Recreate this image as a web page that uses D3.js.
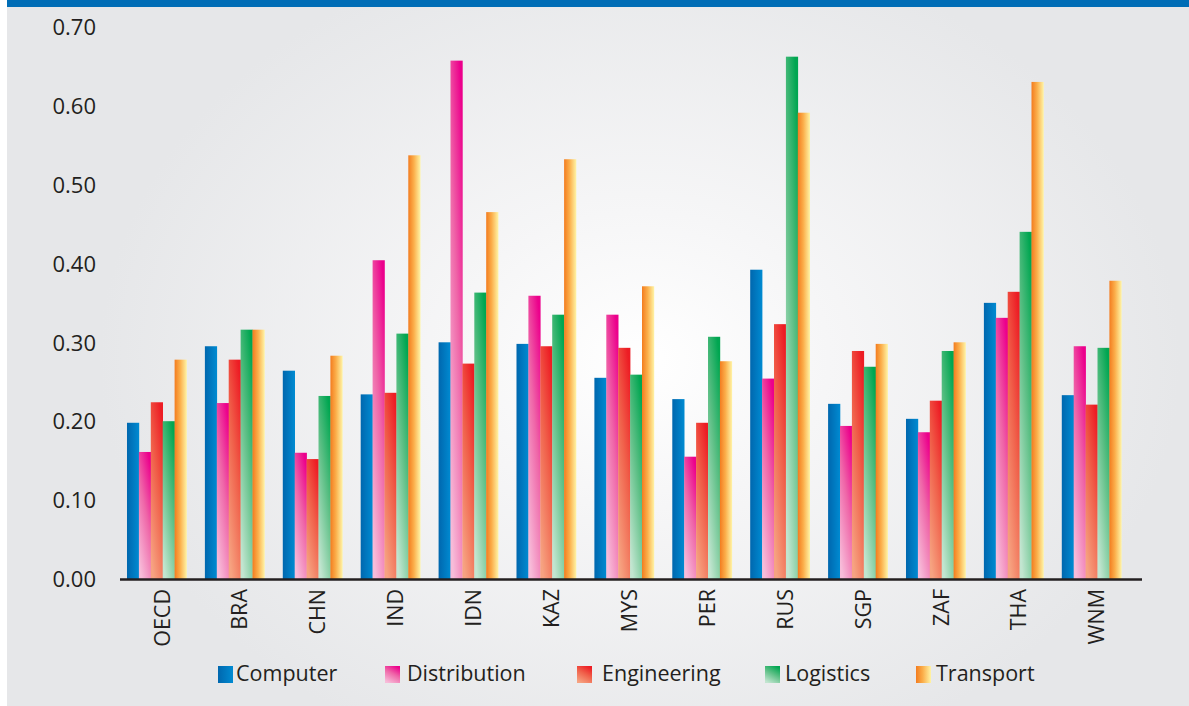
<!DOCTYPE html>
<html>
<head>
<meta charset="utf-8">
<script src="https://cdn.jsdelivr.net/npm/d3@7"></script>
<style>
  html, body { margin: 0; padding: 0; background: #ffffff; }
  svg { display: block; }
  text { font-family: "Open Sans", "Noto Sans", sans-serif; fill: #231f20; }
</style>
</head>
<body>
<svg id="chart" width="1189" height="706"></svg>
<script>
// Sector scores by economy
const categories = ["OECD", "BRA", "CHN", "IND", "IDN", "KAZ", "MYS", "PER", "RUS", "SGP", "ZAF", "THA", "WNM"];
const seriesNames = ["Computer", "Distribution", "Engineering", "Logistics", "Transport"];

const computer     = [0.198, 0.295, 0.264, 0.234, 0.300, 0.298, 0.255, 0.228, 0.392, 0.222, 0.203, 0.350, 0.233];
const distribution = [0.161, 0.223, 0.160, 0.404, 0.657, 0.359, 0.335, 0.155, 0.254, 0.194, 0.186, 0.331, 0.295];
const engineering  = [0.224, 0.278, 0.152, 0.236, 0.273, 0.295, 0.293, 0.198, 0.323, 0.289, 0.226, 0.364, 0.221];
const logistics    = [0.200, 0.316, 0.232, 0.311, 0.363, 0.335, 0.259, 0.307, 0.662, 0.269, 0.289, 0.440, 0.293];
const transport    = [0.278, 0.316, 0.283, 0.537, 0.465, 0.532, 0.371, 0.276, 0.591, 0.298, 0.300, 0.630, 0.378];

const yTicks = [0, 0.1, 0.2, 0.3, 0.4, 0.5, 0.6, 0.7];

const seriesValues = [computer, distribution, engineering, logistics, transport];

const svg = d3.select("#chart");
const W = 1189, H = 706;
const defs = svg.append("defs");

// Backdrop: soft radial light in the middle, grey towards the edges
const bg = defs.append("radialGradient").attr("id", "bg")
  .attr("gradientUnits", "userSpaceOnUse")
  .attr("cx", 640).attr("cy", 360).attr("r", 470)
  .attr("gradientTransform", "translate(640,360) scale(1.15,0.9) translate(-640,-360)");
bg.append("stop").attr("offset", 0).attr("stop-color", "#ffffff");
bg.append("stop").attr("offset", 0.35).attr("stop-color", "#f6f6f7");
bg.append("stop").attr("offset", 1).attr("stop-color", "#e6e7e9");

svg.append("rect").attr("x", 7).attr("y", 0).attr("width", W - 7).attr("height", H).attr("fill", "url(#bg)");
svg.append("rect").attr("x", 7).attr("y", 0).attr("width", W - 7).attr("height", 7).attr("fill", "#006db6");

// Bar fills
function linear(id, x1, y1, x2, y2, stops) {
  const g = defs.append("linearGradient").attr("id", id)
    .attr("x1", x1).attr("y1", y1).attr("x2", x2).attr("y2", y2);
  stops.forEach(([o, c]) => g.append("stop").attr("offset", o).attr("stop-color", c));
}
linear("g0", 0, 0, 1, 0, [[0, "#0067ae"], [1, "#008bd2"]]);
linear("g1", 0.25, 1, 0.75, 0, [[0, "#f7bcd9"], [0.55, "#ef66a8"], [1, "#ec008c"]]);
linear("g2", 0.25, 1, 0.75, 0, [[0, "#f6a381"], [0.55, "#f0604a"], [1, "#ed1c24"]]);
linear("g3", 0.25, 1, 0.75, 0, [[0, "#c2e5d0"], [0.55, "#5cbf85"], [1, "#00a651"]]);
linear("g4", 0, 0, 1, 0, [[0, "#f37c1f"], [0.45, "#fbae4a"], [1, "#fff4a6"]]);
const fills = ["url(#g0)", "url(#g1)", "url(#g2)", "url(#g3)", "url(#g4)"];

// Scales
const x0 = d3.scaleBand().domain(categories).range([117.8, 1130.5])
  .paddingInner(0.236).paddingOuter(0.118);
const x1 = d3.scaleBand().domain(seriesNames).range([0, x0.bandwidth()]);
const y = d3.scaleLinear().domain([0, 0.7]).range([579, 26.7]);

// Bars
const groups = svg.append("g").selectAll("g").data(categories).join("g")
  .attr("transform", d => `translate(${x0(d)},0)`);
groups.selectAll("rect")
  .data((c, i) => seriesNames.map((s, k) => ({ s, k, v: seriesValues[k][i] })))
  .join("rect")
  .attr("x", d => x1(d.s))
  .attr("width", x1.bandwidth() + 0.3)
  .attr("y", d => y(d.v))
  .attr("height", d => y(0) - y(d.v))
  .attr("fill", d => fills[d.k]);

// Y axis labels
const yAxis = d3.axisLeft(y).tickValues(yTicks).tickFormat(d3.format(".2f"))
  .tickSize(0).tickPadding(0);
const ya = svg.append("g").attr("transform", "translate(96,0)").call(yAxis);
ya.select(".domain").remove();
ya.selectAll("text").attr("font-size", 22).attr("font-family", "'Open Sans', sans-serif")
  .attr("fill", "#231f20").attr("text-anchor", "end").attr("dy", "0.35em");

// Baseline
svg.append("line").attr("x1", 120).attr("x2", 1142).attr("y1", y(0) + 0.5).attr("y2", y(0) + 0.5)
  .attr("stroke", "#231f20").attr("stroke-width", 2.6);

// Category labels
const xAxis = d3.axisBottom(x0).tickSize(0).tickPadding(0);
const xa = svg.append("g").attr("transform", `translate(0,${y(0)})`).call(xAxis);
xa.select(".domain").remove();
xa.selectAll(".tick text")
  .attr("font-size", 21.5).attr("font-family", "'Open Sans', sans-serif").attr("fill", "#231f20")
  .attr("text-anchor", "end")
  .attr("transform", "translate(5,10) rotate(-90)")
  .attr("x", 0).attr("y", 0).attr("dy", "0.36em");

// Legend
const legendX = [218, 385, 577, 765, 916];
const legendGap = [3, 7, 10, 5, 5];
const lg = svg.append("g").selectAll("g").data(seriesNames).join("g")
  .attr("transform", (d, i) => `translate(${legendX[i]},666)`);
lg.append("rect").attr("width", 15).attr("height", 17).attr("fill", (d, i) => fills[i]);
lg.append("text").attr("x", (d, i) => 15 + legendGap[i]).attr("y", 15)
  .attr("font-size", 21.5).text(d => d);
</script>
</body>
</html>
